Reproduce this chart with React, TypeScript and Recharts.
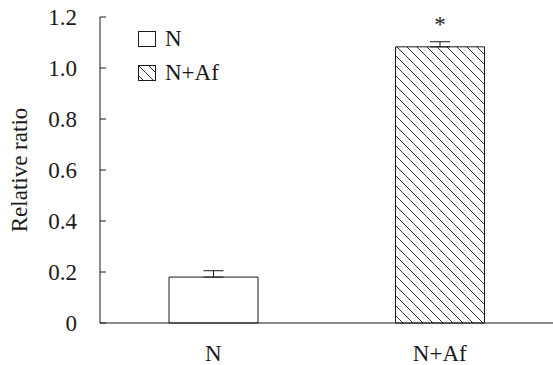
import { Bar, BarChart, Cell, ErrorBar, LabelList, XAxis, YAxis } from "recharts";

const CATEGORIES = ["N", "N+Af"];
const RATIO = [0.18, 1.083];
const ERR_UP = [0.025, 0.02];
const SIG = ["", "*"];
const Y_TICKS = [0, 0.2, 0.4, 0.6, 0.8, 1.0, 1.2];

const data = CATEGORIES.map((c, i) => ({ cat: c, ratio: RATIO[i], err: [0, ERR_UP[i]], sig: SIG[i] }));

const FONT = "Liberation Serif";
const INK = "#1a1a1a";
const fills = ["#fff", "url(#hatch)"];

function Hatch({ id }: { id: string }) {
  return (
    <pattern id={id} patternUnits="userSpaceOnUse" width={10} height={10}>
      <path d="M0,0 L10,10 M-1,9 L1,11 M9,-1 L11,1" stroke="#333" strokeWidth={1} />
    </pattern>
  );
}

// legend sits inside the plot, top-left; drawn as an overlay so it takes no room from the axes
function LegendBox() {
  return (
    <div
      style={{
        position: "absolute",
        left: 138,
        top: 22,
        fontFamily: FONT,
        fontSize: 23,
        color: INK,
        lineHeight: "34px",
      }}
    >
      {CATEGORIES.map((c, i) => (
        <div key={c} style={{ display: "flex", alignItems: "center" }}>
          <svg width={19} height={17} style={{ marginRight: 8 }}>
            <defs>
              <Hatch id="hatchLegend" />
            </defs>
            <rect x={0.5} y={0.5} width={17} height={15} fill={i === 0 ? "#fff" : "url(#hatchLegend)"} stroke={INK} />
          </svg>
          <span>{c}</span>
        </div>
      ))}
    </div>
  );
}

export default function App() {
  return (
    <div style={{ position: "absolute", left: 0, top: 0, width: 553, height: 365, background: "#fff" }}>
      <BarChart width={553} height={365} data={data} margin={{ top: 17, right: 0, bottom: 0, left: 0 }}>
        <defs>
          <Hatch id="hatch" />
        </defs>
        <XAxis
          xAxisId="edge"
          type="number"
          domain={[0, 2]}
          ticks={[1]}
          tick={false}
          axisLine={false}
          tickSize={-5}
          height={0}
          stroke={INK}
        />
        <XAxis
          dataKey="cat"
          height={42}
          tickLine={false}
          tickSize={0}
          tickMargin={22}
          axisLine={{ stroke: INK }}
          tick={{ fill: INK, fontSize: 23, fontFamily: FONT }}
        />
        <YAxis
          width={100}
          domain={[0, 1.2]}
          ticks={Y_TICKS}
          tickSize={-6}
          tickMargin={29}
          stroke={INK}
          tickFormatter={(v: number) => (v === 0 ? "0" : v.toFixed(1))}
          tick={{ fill: INK, fontSize: 23, fontFamily: FONT }}
          label={{
            value: "Relative ratio",
            angle: -90,
            position: "insideLeft",
            offset: 19,
            style: { textAnchor: "middle", fill: INK, fontSize: 23, fontFamily: FONT },
          }}
        />
        <Bar dataKey="ratio" barSize={89} stroke={INK} strokeWidth={1} isAnimationActive={false}>
          {data.map((d, i) => (
            <Cell key={d.cat} fill={fills[i]} />
          ))}
          <ErrorBar dataKey="err" direction="y" width={10} stroke={INK} strokeWidth={1} />
          <LabelList dataKey="sig" position="top" offset={15} fill={INK} fontSize={23} fontFamily={FONT} />
        </Bar>
      </BarChart>
      <LegendBox />
    </div>
  );
}
